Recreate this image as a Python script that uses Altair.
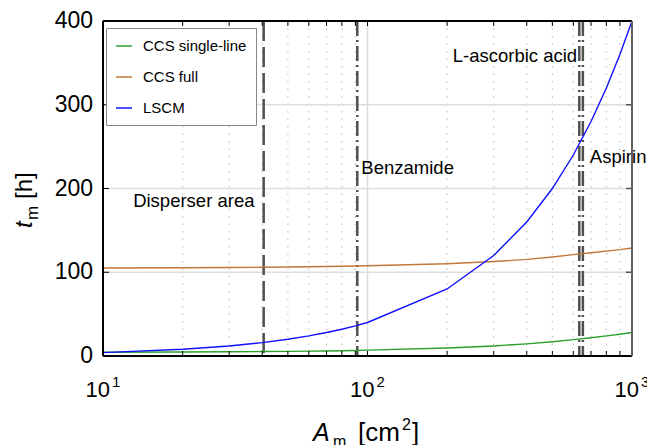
import altair as alt
import pandas as pd

# ---------------- data ----------------
area = [10, 20, 30, 40, 50, 60, 70, 80, 90, 100, 200, 300, 400, 500, 600, 700, 800, 900, 1000]
ccs_single = [4.5, 4.8, 5.0, 5.3, 5.5, 5.8, 6.0, 6.3, 6.6, 7.0, 9.5, 12.0, 14.5, 17.0, 19.5, 21.8, 24.0, 26.0, 28.0]
ccs_full = [105.0, 105.3, 105.6, 105.9, 106.2, 106.5, 106.8, 107.1, 107.4, 107.8, 110.2, 112.8, 115.4, 118.2, 121.0, 123.2, 125.2, 127.0, 129.0]
lscm = [4, 8, 12, 16, 20, 24, 28, 32, 36, 40, 80, 120, 160, 200, 240, 280, 320, 360, 400]

series_names = ["CCS single-line", "CCS full", "LSCM"]
series_colors = ["#2ca02c", "#c0773a", "#1010ff"]

dash_lines_x = [40.5]                # Disperser area
dashdot_lines_x = [91.5, 632, 652]   # Benzamide, L-ascorbic acid, Aspirin

ann_text = ["Disperser area", "Benzamide", "L-ascorbic acid", "Aspirin"]
ann_x = [13.0, 94.8, 210, 693]
ann_y = [185, 224, 358, 238]

minor_x = [20, 30, 40, 50, 60, 70, 80, 90, 200, 300, 400, 500, 600, 700, 800, 900]
major_x = [100]
y_ticks = [0, 100, 200, 300, 400]
y_tick_labels = ["0", "100", "200", "300", "400"]
y_grid = [100, 200, 300]
x_label_vals = [10, 100, 1000]
x_label_base = ["10", "10", "10"]
x_label_exp = ["1", "2", "3"]

# ---------------- frames ----------------
rows = []
for name, vals in zip(series_names, [ccs_single, ccs_full, lscm]):
    for a, v in zip(area, vals):
        rows.append({"A": a, "t": v, "series": name})
df = pd.DataFrame(rows)

W, H = 529, 335
FONT = "Liberation Sans"
xs = alt.Scale(type="log", domain=[10, 1000], nice=False)
ys = alt.Scale(domain=[0, 400], nice=False)

lines = alt.Chart(df).mark_line(strokeWidth=1.4, clip=True).encode(
    x=alt.X("A:Q", scale=xs, axis=None),
    y=alt.Y("t:Q", scale=ys, axis=None),
    color=alt.Color("series:N", sort=series_names,
                    scale=alt.Scale(domain=series_names, range=series_colors),
                    legend=alt.Legend(title=None, orient="none", legendX=3, legendY=7,
                                      direction="vertical", symbolType="stroke", symbolSize=256,
                                      symbolStrokeWidth=1.5, labelFont=FONT, labelFontSize=15,
                                      labelColor="black", labelOffset=10, labelLimit=300,
                                      rowPadding=14, padding=9, strokeColor="#888888",
                                      fillColor="white", offset=0)),
)

minor_df = pd.DataFrame({"v": minor_x})
major_df = pd.DataFrame({"v": major_x})
tick_x_df = pd.DataFrame({"v": minor_x + major_x})
ygrid_df = pd.DataFrame({"v": y_grid})
ylab_df = pd.DataFrame({"v": y_ticks, "lab": y_tick_labels})

minor_grid = alt.Chart(minor_df).mark_rule(color="#c4c4c4", strokeDash=[1.5, 6], strokeWidth=1.2).encode(
    x=alt.X("v:Q", scale=xs, axis=None))
major_grid = alt.Chart(major_df).mark_rule(color="#dcdcdc", strokeWidth=1.5).encode(
    x=alt.X("v:Q", scale=xs, axis=None))
h_grid = alt.Chart(ygrid_df).mark_rule(color="#dedede", strokeWidth=1.5).encode(
    y=alt.Y("v:Q", scale=ys, axis=None))

dash_df = pd.DataFrame({"v": dash_lines_x})
dashdot_df = pd.DataFrame({"v": dashdot_lines_x})
dash_rules = alt.Chart(dash_df).mark_rule(color="#505050", strokeWidth=2.5, strokeDash=[20, 6]).encode(
    x=alt.X("v:Q", scale=xs, axis=None))
dashdot_rules = alt.Chart(dashdot_df).mark_rule(color="#505050", strokeWidth=2.5,
                                                strokeDash=[15, 4, 2, 4]).encode(
    x=alt.X("v:Q", scale=xs, axis=None))

ann_df = pd.DataFrame({"x": ann_x, "y": ann_y, "label": ann_text})
annotations = alt.Chart(ann_df).mark_text(align="left", baseline="middle", font=FONT,
                                          fontSize=18.5, color="black").encode(
    x=alt.X("x:Q", scale=xs, axis=None),
    y=alt.Y("y:Q", scale=ys, axis=None),
    text="label:N")

# inward ticks
bottom_ticks = alt.Chart(tick_x_df).mark_rule(color="black", strokeWidth=1).encode(
    x=alt.X("v:Q", scale=xs, axis=None), y=alt.value(H), y2=alt.value(H - 5))
top_ticks = alt.Chart(tick_x_df).mark_rule(color="black", strokeWidth=1).encode(
    x=alt.X("v:Q", scale=xs, axis=None), y=alt.value(0), y2=alt.value(5))
left_ticks = alt.Chart(ygrid_df).mark_rule(color="black", strokeWidth=1).encode(
    y=alt.Y("v:Q", scale=ys, axis=None), x=alt.value(0), x2=alt.value(6))
right_ticks = alt.Chart(ygrid_df).mark_rule(color="#555555", strokeWidth=1.5).encode(
    y=alt.Y("v:Q", scale=ys, axis=None), x=alt.value(W - 6), x2=alt.value(W))

# frame
top_frame = alt.Chart(ygrid_df).mark_rule(color="black", strokeWidth=2).encode(
    x=alt.value(0), x2=alt.value(W), y=alt.value(0))
bottom_frame = alt.Chart(ygrid_df).mark_rule(color="black", strokeWidth=2).encode(
    x=alt.value(0), x2=alt.value(W), y=alt.value(H))
left_frame = alt.Chart(ygrid_df).mark_rule(color="black", strokeWidth=2).encode(
    x=alt.value(0), y=alt.value(0), y2=alt.value(H))
right_frame = alt.Chart(ygrid_df).mark_rule(color="#606060", strokeWidth=2).encode(
    x=alt.value(W), y=alt.value(0), y2=alt.value(H))

# y tick labels
ylabels = alt.Chart(ylab_df).mark_text(align="right", baseline="middle", font=FONT,
                                       fontSize=23, color="black").encode(
    x=alt.value(-10), y=alt.Y("v:Q", scale=ys, axis=None), text="lab:N")

# x tick labels with superscripts
xl_df = pd.DataFrame({"v": x_label_vals, "b": x_label_base, "e": x_label_exp})
xl_base = alt.Chart(xl_df).mark_text(align="right", baseline="alphabetic", font=FONT,
                                     fontSize=22, color="black", dx=7).encode(
    x=alt.X("v:Q", scale=xs, axis=None), y=alt.value(376), text="b:N")
xl_exp = alt.Chart(xl_df).mark_text(align="left", baseline="alphabetic", font=FONT,
                                    fontSize=15, color="black", dx=9).encode(
    x=alt.X("v:Q", scale=xs, axis=None), y=alt.value(366), text="e:N")

# axis titles built from pieces
one = pd.DataFrame({"k": [0]})

def piece(txt, x, y, size, italic=False, angle=0):
    kw = dict(align="left", baseline="alphabetic", font=FONT, fontSize=size, color="black", text=txt)
    if italic:
        kw["fontStyle"] = "italic"
    if angle:
        kw["angle"] = angle
    return alt.Chart(one).mark_text(**kw).encode(x=alt.value(x), y=alt.value(y))

x_title = [
    piece("A", 210, 420, 25, italic=True),
    piece("m", 230, 426, 16),
    piece("[cm", 255, 420, 26),
    piece("2", 299, 409, 16),
    piece("]", 309, 420, 26),
]
y_title = [
    piece("t", -71, 207, 24, italic=True, angle=270),
    piece("m", -65, 199, 17, angle=270),
    piece("[h]", -71, 178, 24, angle=270),
]

chart = alt.layer(
    minor_grid, major_grid, h_grid, dash_rules, dashdot_rules, lines, annotations,
    bottom_ticks, top_ticks, left_ticks, right_ticks,
    top_frame, bottom_frame, left_frame, right_frame,
    ylabels, xl_base, xl_exp, *x_title, *y_title,
).properties(
    width=W, height=H,
    autosize=alt.AutoSizeParams(type="none"),
    padding={"left": 103, "top": 21, "right": 15, "bottom": 89},
).configure_view(stroke=None).configure(background="white")

chart.save("out.html", embed_options={"renderer": "svg", "actions": False})
